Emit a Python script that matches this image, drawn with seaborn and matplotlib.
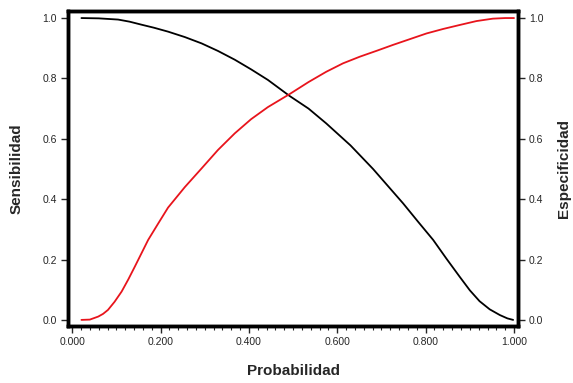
import matplotlib
matplotlib.use("Agg")
import matplotlib.pyplot as plt
import seaborn as sns
import pandas as pd
from matplotlib.ticker import MultipleLocator, FormatStrFormatter

# Sensibilidad (black)
sens_x = [0.021, 0.060, 0.104, 0.130, 0.157, 0.185, 0.217, 0.255, 0.293, 0.330,
          0.368, 0.405, 0.443, 0.492, 0.535, 0.575, 0.630, 0.681, 0.715, 0.749,
          0.783, 0.817, 0.847, 0.877, 0.900, 0.922, 0.945, 0.968, 0.985, 0.998]
sens_y = [1.000, 0.999, 0.995, 0.988, 0.978, 0.968, 0.955, 0.937, 0.916, 0.891,
          0.862, 0.830, 0.795, 0.742, 0.700, 0.651, 0.578, 0.500, 0.443, 0.386,
          0.325, 0.265, 0.203, 0.143, 0.098, 0.062, 0.035, 0.016, 0.005, 0.000]
# Especificidad (red)
spec_x = [0.021, 0.040, 0.059, 0.070, 0.081, 0.096, 0.112, 0.127, 0.142, 0.157,
          0.172, 0.195, 0.217, 0.255, 0.293, 0.330, 0.368, 0.405, 0.443, 0.492,
          0.535, 0.575, 0.613, 0.651, 0.690, 0.726, 0.764, 0.802, 0.840, 0.877,
          0.915, 0.952, 0.980, 1.000]
spec_y = [0.000, 0.001, 0.011, 0.020, 0.033, 0.060, 0.094, 0.134, 0.177, 0.221,
          0.265, 0.320, 0.372, 0.440, 0.502, 0.563, 0.618, 0.665, 0.705, 0.748,
          0.788, 0.822, 0.850, 0.872, 0.892, 0.911, 0.930, 0.949, 0.964, 0.977,
          0.990, 0.998, 1.000, 1.000]

x_ticks = [0.0, 0.2, 0.4, 0.6, 0.8, 1.0]
y_ticks = [0.0, 0.2, 0.4, 0.6, 0.8, 1.0]

sens_df = pd.DataFrame({"Probabilidad": sens_x, "valor": sens_y})
spec_df = pd.DataFrame({"Probabilidad": spec_x, "valor": spec_y})

sns.set_style("white")
plt.rcParams["font.family"] = ["Liberation Sans", "DejaVu Sans"]

fig = plt.figure(figsize=(5.73, 3.83), dpi=100)
ax = fig.add_axes([0.119, 0.149, 0.785, 0.822])

sns.lineplot(data=sens_df, x="Probabilidad", y="valor", ax=ax, color="black",
             linewidth=1.3, estimator=None, sort=False)
ax2 = ax.twinx()
sns.lineplot(data=spec_df, x="Probabilidad", y="valor", ax=ax2, color="#e8141c",
             linewidth=1.3, estimator=None, sort=False)

for a in (ax, ax2):
    a.set_xlim(-0.009, 1.009)
    a.set_ylim(-0.02, 1.023)
    a.set_yticks(y_ticks)
    a.yaxis.set_major_formatter(FormatStrFormatter("%.1f"))
    for s in a.spines.values():
        s.set_linewidth(2.5)
        s.set_color("black")

ax.set_xticks(x_ticks)
ax.xaxis.set_major_formatter(FormatStrFormatter("%.3f"))
ax.xaxis.set_minor_locator(MultipleLocator(0.02))
ax.tick_params(axis="both", which="major", direction="out", length=5, width=1,
               labelsize=7.5, bottom=True, left=True, pad=3)
ax.tick_params(axis="x", which="minor", direction="out", length=3, width=0.8, bottom=True)
ax2.tick_params(axis="y", which="major", direction="out", length=5, width=1,
                labelsize=7.5, right=True, pad=3)

ax.set_xlabel("Probabilidad", fontsize=11, fontweight="bold", labelpad=12)
ax.set_ylabel("Sensibilidad", fontsize=11, fontweight="bold", labelpad=14)
ax2.set_ylabel("Especificidad", fontsize=11, fontweight="bold", labelpad=10)

fig.savefig("out.png", dpi=100)
